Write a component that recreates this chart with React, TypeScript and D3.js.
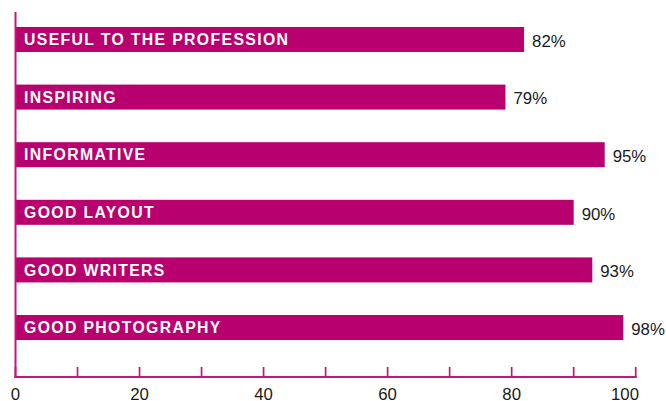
import React from "react";
import * as d3 from "d3";

const categories = [
  "USEFUL TO THE PROFESSION",
  "INSPIRING",
  "INFORMATIVE",
  "GOOD LAYOUT",
  "GOOD WRITERS",
  "GOOD PHOTOGRAPHY",
];
const values = [82, 79, 95, 90, 93, 98];
const tickValues = [0, 10, 20, 30, 40, 50, 60, 70, 80, 90, 100];
const labelTicks = [0, 20, 40, 60, 80, 100];

const W = 666;
const H = 401;
const BAR = "#b8006e";
const AXIS = "#c0187a";
const FONT = "'Liberation Sans', Arial, Helvetica, sans-serif";

export default function App() {
  const x = d3.scaleLinear().domain([0, 100]).range([15.5, 635.7]);
  const y = d3
    .scaleBand<string>()
    .domain(categories)
    .range([12, 355])
    .paddingInner(0.566)
    .paddingOuter(0.26);
  const axisY = 377;
  const bw = y.bandwidth();

  return (
    <svg
      width={W}
      height={H}
      style={{ position: "absolute", left: 0, top: 0, display: "block", background: "#fff" }}
    >
      {categories.map((c, i) => {
        const y0 = y(c)!;
        return (
          <g key={c}>
            <rect x={x(0)} y={y0} width={x(values[i]) - x(0)} height={bw} fill={BAR} />
            <text
              x={x(0) + 8.5}
              y={y0 + bw / 2 + 5.6}
              fill="#fff"
              fontFamily={FONT}
              fontWeight="bold"
              fontSize={15.8}
              letterSpacing={1.35}
            >
              {c}
            </text>
            <text
              x={x(values[i]) + 8}
              y={y0 + bw / 2 + 7.3}
              fill="#1a1a1a"
              fontFamily={FONT}
              fontSize={16.8}
            >
              {values[i]}%
            </text>
          </g>
        );
      })}
      <line x1={x(0)} x2={x(0)} y1={12} y2={axisY + 1} stroke={AXIS} strokeWidth={2} />
      <line x1={x(0) - 1} x2={x(100) + 1} y1={axisY} y2={axisY} stroke={AXIS} strokeWidth={2} />
      {tickValues.map((t) => (
        <line key={t} x1={x(t)} x2={x(t)} y1={axisY - 10} y2={axisY} stroke={AXIS} strokeWidth={1.7} />
      ))}
      {labelTicks.map((t, i) => (
        <text
          key={t}
          x={i === labelTicks.length - 1 ? x(t) + 3.3 : x(t)}
          y={400.3}
          textAnchor={i === labelTicks.length - 1 ? "end" : "middle"}
          fill="#1a1a1a"
          fontFamily={FONT}
          fontSize={16.8}
        >
          {t}
        </text>
      ))}
    </svg>
  );
}
